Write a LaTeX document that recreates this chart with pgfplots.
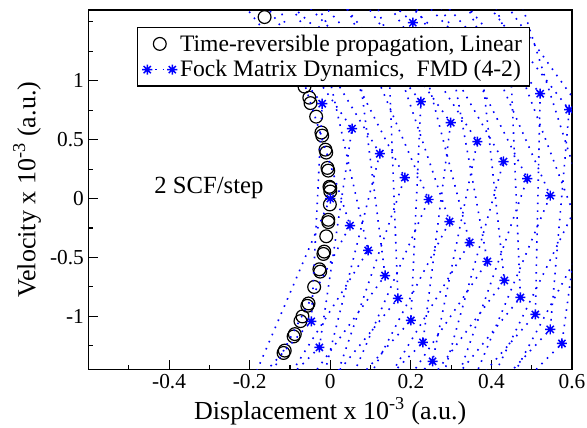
\documentclass[border=0pt]{standalone}
\usepackage{fontspec}
\setmainfont{Liberation Serif}
\usepackage{pgfplots}
\pgfplotsset{compat=1.18}
% eight-armed asterisk as xmgrace draws it
\pgfdeclareplotmark{ast8}{%
  \pgfpathmoveto{\pgfqpoint{0pt}{\pgfplotmarksize}}%
  \pgfpathlineto{\pgfqpoint{0pt}{-\pgfplotmarksize}}%
  \pgfpathmoveto{\pgfqpoint{\pgfplotmarksize}{0pt}}%
  \pgfpathlineto{\pgfqpoint{-\pgfplotmarksize}{0pt}}%
  \pgfpathmoveto{\pgfqpoint{0.707\pgfplotmarksize}{0.707\pgfplotmarksize}}%
  \pgfpathlineto{\pgfqpoint{-0.707\pgfplotmarksize}{-0.707\pgfplotmarksize}}%
  \pgfpathmoveto{\pgfqpoint{0.707\pgfplotmarksize}{-0.707\pgfplotmarksize}}%
  \pgfpathlineto{\pgfqpoint{-0.707\pgfplotmarksize}{0.707\pgfplotmarksize}}%
  \pgfusepathqstroke}
\pgfplotsset{
  circlegend/.style={legend image code/.code={\path (0cm,0cm) (0.66cm,0cm);
    \draw[##1] plot coordinates {(0.33cm,0cm)};}},
  starlegend/.style={legend image code/.code={%
    \draw[##1] plot coordinates {(0cm,0cm) (0.66cm,0cm)};}},
}
\begin{document}
\begin{tikzpicture}
\begin{axis}[
  scale only axis,
  width=362.6pt, height=269.6pt,
  xmin=-0.6, xmax=0.6,
  ymin=-1.45, ymax=1.6,
  xtick={-0.4,-0.2,0,0.2,0.4,0.6},
  xticklabels={-0.4,-0.2,0,0.2,0.4,0.6},
  minor xtick={-0.5,-0.3,-0.1,0.1,0.3,0.5},
  ytick={-1,-0.5,0,0.5,1},
  yticklabels={-1,-0.5,0,0.5,1},
  minor ytick={-1.25,-0.75,-0.25,0.25,0.75,1.25,1.5},
  xtick pos=bottom, ytick pos=left,
  tick align=inside,
  major tick length=7pt, minor tick length=3.5pt,
  every tick/.style={black, line width=0.8pt},
  axis line style={line width=1pt},
  tick label style={font=\rmfamily\fontsize{16}{18}\selectfont},
  label style={font=\rmfamily\fontsize{19.5}{22}\selectfont},
  xlabel={Displacement x 10\textsuperscript{-3} (a.u.)},
  ylabel={Velocity x 10\textsuperscript{-3} (a.u.)},
  unbounded coords=jump,
  clip marker paths=true,
  legend cell align=left,
  legend style={at={(axis cs:-0.48,1.458)}, anchor=north west,
    draw=black, line width=1pt, fill=white,
    font=\rmfamily\fontsize{17.7}{20}\selectfont,
    inner xsep=3.5pt, inner ysep=3.5pt, row sep=1.5pt},
]

% time-reversible propagation (linear)
\addplot[only marks, mark=o, mark size=4.8pt, line width=0.9pt, black, circlegend]
coordinates {
 (-0.163,1.54) (-0.064,0.95) (-0.052,0.856) (-0.049,0.81)
 (-0.035,0.695) (-0.022,0.56) (-0.020,0.534) (-0.012,0.415)
 (-0.010,0.39) (-0.007,0.26) (-0.005,0.237) (-0.002,0.10)
 (0.000,0.09) (0.000,0.06) (-0.001,-0.05) (-0.005,-0.18)
 (-0.005,-0.20) (-0.010,-0.32) (-0.015,-0.45) (-0.017,-0.47)
 (-0.027,-0.60) (-0.025,-0.62) (-0.040,-0.75) (-0.054,-0.89)
 (-0.057,-0.91) (-0.069,-1.00) (-0.074,-1.04) (-0.091,-1.17)
 (-0.088,-1.15) (-0.116,-1.31) (-0.113,-1.29)
};
\addlegendentry{Time-reversible propagation, Linear}

% Fock matrix dynamics, FMD (4-2)
\addplot[blue, line width=1.2pt, dash pattern=on 1.2pt off 4.6pt,
  mark=ast8, mark size=3.8pt, mark options={solid, line width=1.1pt}, starlegend]
coordinates {
 (0,0) (-0.232,-1.86) (nan,nan)
 (-0.452,2.665) (-0.020,0.805) (-0.047,-1.042) (-0.541,-2.902) (nan,nan)
 (-0.126,1.631) (0.049,-0.229) (-0.240,-2.089) (nan,nan)
 (-0.325,2.453) (0.054,0.593) (-0.027,-1.263) (-0.576,-3.123) (nan,nan)
 (-0.614,3.28) (-0.028,1.42) (0.094,-0.44) (-0.247,-2.30) (nan,nan)
 (-0.204,2.241) (0.123,0.381) (-0.014,-1.479) (nan,nan)
 (-0.465,3.067) (0.067,1.207) (0.136,-0.653) (-0.258,-2.513) (nan,nan)
 (-0.091,2.038) (0.185,0.178) (-0.002,-1.682) (nan,nan)
 (-0.337,2.873) (0.147,1.013) (0.168,-0.847) (-0.275,-2.707) (nan,nan)
 (0.014,1.852) (0.244,-0.008) (0.010,-1.868) (nan,nan)
 (-0.211,2.682) (0.225,0.822) (0.200,-1.034) (-0.290,-2.894) (nan,nan)
 (0.113,1.665) (0.296,-0.195) (0.016,-2.055) (nan,nan)
 (-0.092,2.504) (0.299,0.644) (0.230,-1.220) (-0.307,-3.080) (nan,nan)
 (-0.398,3.352) (0.205,1.492) (0.346,-0.373) (0.021,-2.233) (nan,nan)
 (0.014,2.343) (0.365,0.483) (0.254,-1.381) (-0.322,-3.241) (nan,nan)
 (-0.271,3.186) (0.291,1.326) (0.390,-0.534) (0.025,-2.394) (nan,nan)
 (0.120,2.174) (0.430,0.314) (0.277,-1.546) (nan,nan)
 (-0.149,3.025) (0.374,1.165) (0.432,-0.695) (0.027,-2.555) (nan,nan)
 (0.215,2.029) (0.489,0.169) (0.299,-1.691) (nan,nan)
 (-0.037,2.881) (0.449,1.021) (0.472,-0.839) (0.031,-2.699) (nan,nan)
 (0.308,1.885) (0.546,0.025) (0.320,-1.835) (nan,nan)
 (0.067,2.750) (0.521,0.890) (0.509,-0.983) (0.032,-2.843) (nan,nan)
 (0.398,1.740) (0.603,-0.120) (0.338,-1.980) (nan,nan)
 (0.172,2.614) (0.593,0.754) (0.546,-1.110) (0.039,-2.970) (nan,nan)
 (0.478,1.620) (0.651,-0.240) (0.360,-2.100) (nan,nan)
 (0.260,2.491) (0.649,0.631) (0.575,-1.229) (0.037,-3.089)
};
\addlegendentry{Fock Matrix Dynamics,\ \ FMD (4-2)}

\node[anchor=base west, inner sep=0pt, font=\rmfamily\fontsize{18.5}{20}\selectfont]
  at (axis cs:-0.437,0.04) {2 SCF/step};

\coordinate (sw) at (rel axis cs:0,0);
\coordinate (ne) at (rel axis cs:1,1);
\end{axis}
\pgfresetboundingbox
\path[use as bounding box] ([xshift=-66.4pt,yshift=-43.9pt]sw) rectangle ([xshift=11.25pt,yshift=7.5pt]ne);
\end{tikzpicture}
\end{document}
